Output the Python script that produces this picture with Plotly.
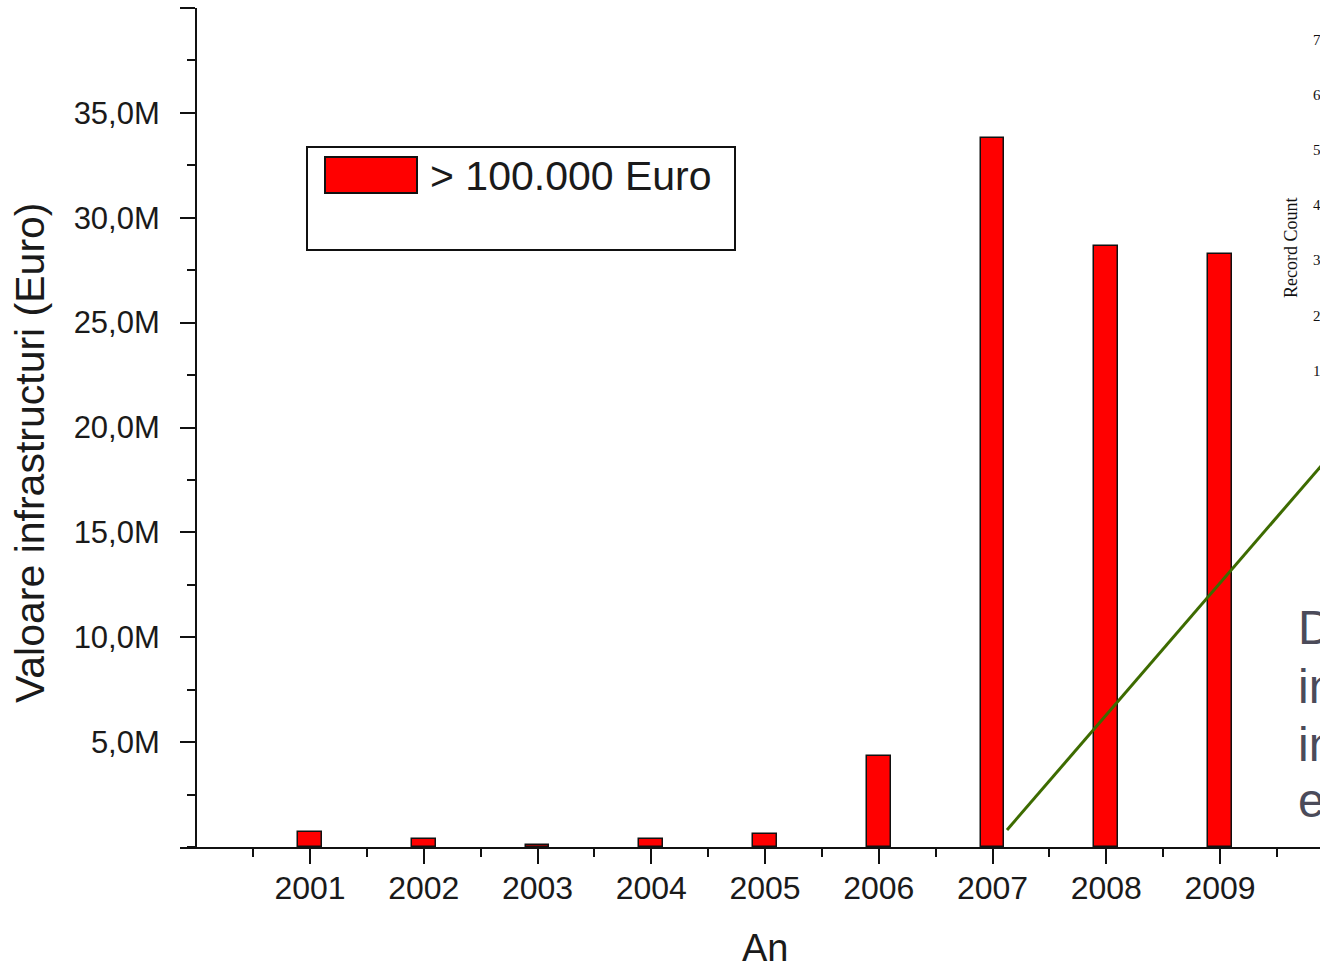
import plotly.graph_objects as go

years = [2001, 2002, 2003, 2004, 2005, 2006, 2007, 2008, 2009]
values = [0.71e6, 0.38e6, 0.10e6, 0.38e6, 0.62e6, 4.33e6, 33.8e6, 28.67e6, 28.29e6]
series_name = "> 100.000 Euro"
y_title = "Valoare infrastructuri (Euro)"
x_title = "An"
y_tickvals = [5e6, 10e6, 15e6, 20e6, 25e6, 30e6, 35e6, 40e6]
y_ticktext = ["5,0M", "10,0M", "15,0M", "20,0M", "25,0M", "30,0M", "35,0M", ""]
x_ticktext = [str(y) for y in years]
overlay_digits = ["7", "6", "5", "4", "3", "2", "1"]
overlay_lines = ["D", "in", "in", "e"]

W, H = 1320, 968
L, R, T, B = 180, 0, 8, 121
PW, PH = W - L - R, H - T - B

def px(x):
    return (x - L) / PW

def py(y):
    return (H - B - y) / PH

FONT = "Liberation Sans, Arial, sans-serif"
SERIF = "Liberation Serif, Times New Roman, serif"
TXT = "#1a1a1a"

fig = go.Figure()
fig.add_trace(go.Bar(
    x=years, y=values, name=series_name, width=0.21,
    marker=dict(color="#ff0000", line=dict(color="#111111", width=1.5)),
    showlegend=False,
))

fig.update_layout(
    width=W, height=H,
    margin=dict(l=L, r=R, t=T, b=B, autoexpand=False),
    paper_bgcolor="white", plot_bgcolor="white",
    font=dict(family=FONT, color=TXT),
    bargap=0,
    xaxis=dict(
        range=[1999.857, 2009.879],
        tickmode="array", tickvals=years, ticktext=x_ticktext,
        showline=True, linecolor="#111111", linewidth=2,
        ticks="outside", ticklen=15, tickwidth=2, tickcolor="#111111",
        tickfont=dict(size=32, family=FONT, color=TXT),
        ticklabelstandoff=-3,
        showgrid=False, zeroline=False,
        minor=dict(ticks="outside", ticklen=8, tickwidth=2, tickcolor="#111111",
                   tickmode="linear", tick0=2000.5, dtick=1, showgrid=False),
    ),
    yaxis=dict(
        range=[0, 40e6],
        anchor="free", position=px(196),
        tickmode="array", tickvals=y_tickvals, ticktext=y_ticktext,
        showline=True, linecolor="#111111", linewidth=2,
        ticks="outside", ticklen=15, tickwidth=2, tickcolor="#111111",
        tickfont=dict(size=31, family=FONT, color=TXT),
        ticklabelstandoff=14,
        showgrid=False, zeroline=False,
        minor=dict(ticks="outside", ticklen=8, tickwidth=2, tickcolor="#111111",
                   tickmode="linear", tick0=0, dtick=2.5e6, showgrid=False),
    ),
)

shapes = [
    # legend frame
    dict(type="rect", xref="paper", yref="paper",
         x0=px(307), x1=px(735), y0=py(250), y1=py(147),
         line=dict(color="#111111", width=2), fillcolor="white", layer="above"),
    # legend swatch
    dict(type="rect", xref="paper", yref="paper",
         x0=px(325), x1=px(417), y0=py(193), y1=py(157),
         line=dict(color="#111111", width=2), fillcolor="#ff0000", layer="above"),
    # overlay green line
    dict(type="line", xref="paper", yref="paper",
         x0=px(1007), y0=py(830), x1=px(1340), y1=py(444),
         line=dict(color="#3d6b00", width=3), layer="above"),
]
fig.update_layout(shapes=shapes)

ann = [
    dict(text=series_name, x=px(428), y=py(176), xref="paper", yref="paper",
         xanchor="left", yanchor="middle", showarrow=False,
         font=dict(size=41, family=FONT, color=TXT)),
    dict(text=x_title, x=px(765), y=py(948), xref="paper", yref="paper",
         xanchor="center", yanchor="middle", showarrow=False,
         font=dict(size=38, family=FONT, color=TXT)),
    dict(text=y_title, x=px(30), y=py(453), xref="paper", yref="paper",
         xanchor="center", yanchor="middle", showarrow=False, textangle=-90,
         font=dict(size=41, family=FONT, color=TXT)),
    dict(text="Record Count", x=px(1291), y=py(248), xref="paper", yref="paper",
         xanchor="center", yanchor="middle", showarrow=False, textangle=-90,
         font=dict(size=18, family=SERIF, color="#111111")),
]
digit_y = [40, 95, 150, 205, 260, 316, 371]
for d, yy in zip(overlay_digits, digit_y):
    ann.append(dict(text=d, x=px(1311), y=py(yy), xref="paper", yref="paper",
                    xanchor="left", yanchor="middle", showarrow=False,
                    font=dict(size=15, family=SERIF, color="#111111")))
line_y = [627, 686, 744, 800]
for t, yy in zip(overlay_lines, line_y):
    ann.append(dict(text=t, x=px(1296), y=py(yy), xref="paper", yref="paper",
                    xanchor="left", yanchor="middle", showarrow=False,
                    font=dict(size=48, family=FONT, color="#4b4b5a")))
fig.update_layout(annotations=ann)

fig.write_html("out.html", include_plotlyjs=True,
               config={"displayModeBar": False},
               post_script="document.body.style.margin='0';document.body.style.overflow='hidden';")
